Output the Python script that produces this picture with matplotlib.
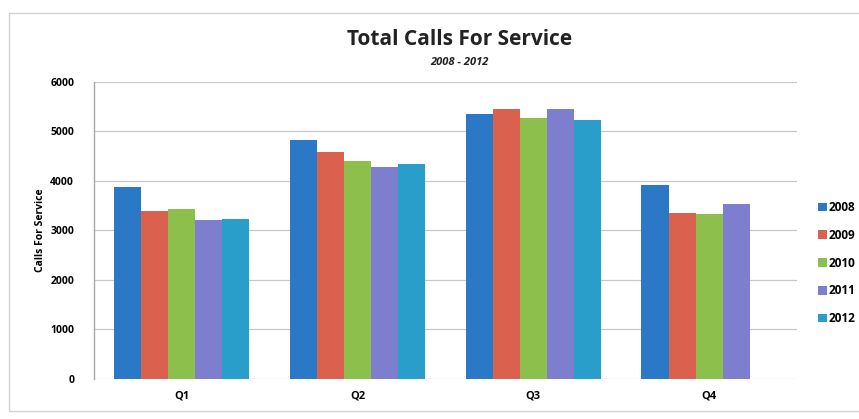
import numpy as np
import matplotlib
matplotlib.use("Agg")
import matplotlib.pyplot as plt
from matplotlib.patches import Rectangle

# ── Data ───────────────────────────────────────────────────────────────────────
quarters = ["Q1", "Q2", "Q3", "Q4"]
years = ["2008", "2009", "2010", "2011", "2012"]
calls_2008 = [3870, 4830, 5360, 3910]
calls_2009 = [3400, 4590, 5460, 3360]
calls_2010 = [3430, 4400, 5280, 3330]
calls_2011 = [3210, 4290, 5450, 3530]
calls_2012 = [3240, 4340, 5230, np.nan]   # no Q4 value yet
series = [calls_2008, calls_2009, calls_2010, calls_2011, calls_2012]

COLOURS = ["#2B78C6", "#D9614E", "#8CBF4B", "#7E7ECF", "#2A9ECB"]

plt.rcParams.update({
    "font.family": ["Open Sans", "DejaVu Sans"],
    "font.weight": "bold",
})

fig = plt.figure(figsize=(8.59, 4.19), dpi=100)
ax = fig.add_axes([0.109, 0.0955, 0.819, 0.709])

# faint frame round the chart (right edge runs off the page)
fig.patches.append(Rectangle((0.01, 0.02), 1.0, 0.95, transform=fig.transFigure,
                             fill=False, edgecolor="#D2D2D2", linewidth=1.0, zorder=0))

x = np.arange(len(quarters))
w = 0.154
for i, (yr, vals) in enumerate(zip(years, series)):
    ax.bar(x + (i - 2) * w, vals, w, color=COLOURS[i], label=yr,
           edgecolor="none", zorder=3)

ax.set_xlim(-0.5, 3.5)
ax.set_ylim(0, 6000)
ax.set_yticks(range(0, 6001, 1000))
ax.set_xticks(x)
ax.set_xticklabels(quarters, fontsize=8, fontweight="bold")
ax.tick_params(axis="y", labelsize=7.5, length=0, pad=14)
ax.tick_params(axis="x", length=0, pad=8)
for lab in ax.get_yticklabels():
    lab.set_fontweight("bold")

ax.grid(axis="y", color="#C8C8C8", linewidth=0.9, zorder=0)
for s in ["top", "right", "bottom"]:
    ax.spines[s].set_visible(False)
ax.spines["left"].set_color("#A8A8A8")
ax.spines["left"].set_linewidth(1.0)

ax.set_ylabel("Calls For Service", fontsize=7.5, fontweight="bold", labelpad=3)

fig.text(0.535, 0.905, "Total Calls For Service", ha="center", va="center",
         fontsize=15, fontweight="bold", color="#222222")
fig.text(0.535, 0.85, "2008 - 2012", ha="center", va="center",
         fontsize=8, fontweight="bold", style="italic", color="#222222")

leg = ax.legend(loc="center left", bbox_to_anchor=(1.03, 0.39), frameon=False,
                fontsize=8.5, handlelength=0.75, handleheight=0.75,
                handletextpad=0.15, labelspacing=1.25,
                borderpad=0, borderaxespad=0)
for t in leg.get_texts():
    t.set_fontweight("bold")

fig.savefig("out.png", dpi=100)
